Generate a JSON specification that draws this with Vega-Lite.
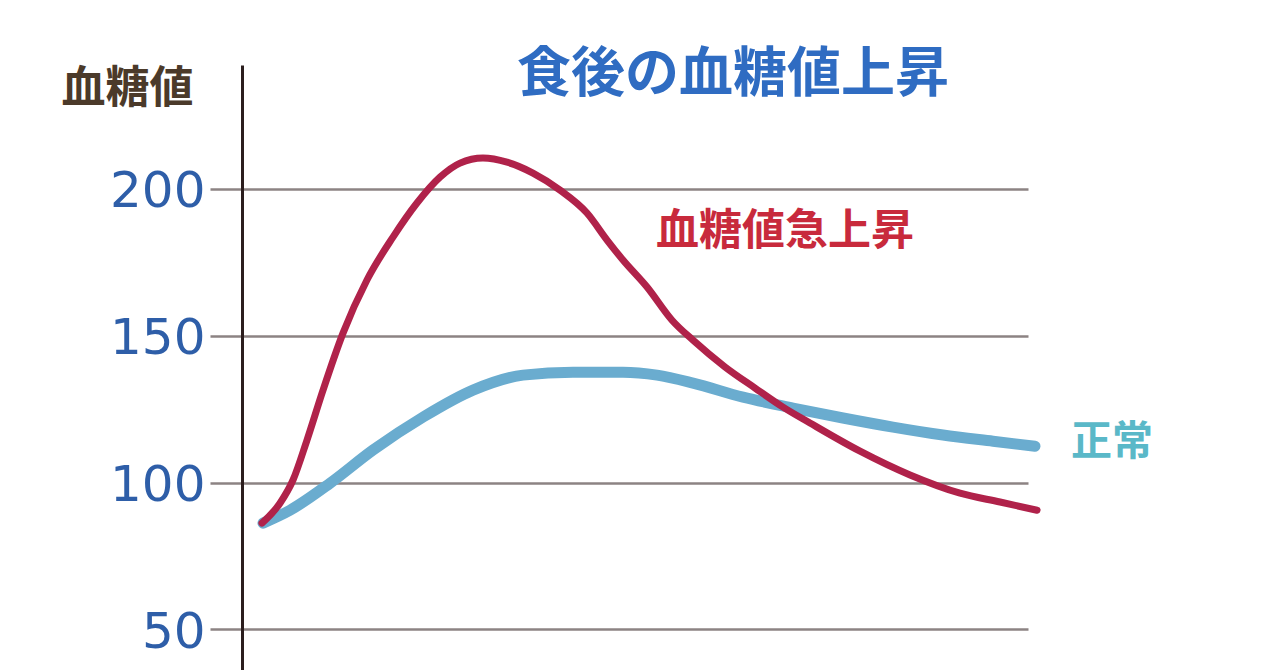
{
  "$schema": "https://vega.github.io/schema/vega-lite/v6.json",
  "width": 786,
  "height": 605,
  "autosize": {"type": "none"},
  "padding": {"left": 242, "top": 65, "right": 252, "bottom": 0},
  "background": "white",
  "config": {"view": {"stroke": null}, "font": "Noto Sans CJK JP"},
  "title": {
    "text": "食後の血糖値上昇",
    "frame": "group",
    "anchor": "middle",
    "orient": "top",
    "offset": 0,
    "baseline": "middle",
    "dx": 98,
    "dy": 65,
    "fontSize": 54,
    "fontWeight": "bold",
    "color": "#2f6cc2",
    "font": "Noto Sans CJK JP"
  },
  "datasets": {
    "spike": [
      {"t": 2.54, "v": 86.2}, {"t": 4.83, "v": 93.0}, {"t": 6.49, "v": 100.9}, {"t": 8.27, "v": 114.5},
      {"t": 10.31, "v": 131.5}, {"t": 12.85, "v": 150.9}, {"t": 15.9, "v": 169.0}, {"t": 19.21, "v": 183.6},
      {"t": 22.26, "v": 195.2}, {"t": 25.19, "v": 204.0}, {"t": 27.74, "v": 208.8}, {"t": 30.66, "v": 210.5},
      {"t": 33.72, "v": 209.1}, {"t": 37.02, "v": 205.4}, {"t": 40.46, "v": 199.6}, {"t": 43.89, "v": 191.8},
      {"t": 46.44, "v": 182.6}, {"t": 48.47, "v": 175.8}, {"t": 51.53, "v": 166.6}, {"t": 54.71, "v": 155.3},
      {"t": 57.38, "v": 148.5}, {"t": 61.45, "v": 139.4}, {"t": 65.27, "v": 132.2}, {"t": 68.83, "v": 125.7},
      {"t": 72.26, "v": 120.3}, {"t": 78.63, "v": 110.7}, {"t": 84.99, "v": 102.6}, {"t": 91.35, "v": 96.4},
      {"t": 96.44, "v": 93.4}, {"t": 101.15, "v": 90.6}
    ],
    "normal": [
      {"t": 2.67, "v": 86.2}, {"t": 6.11, "v": 90.6}, {"t": 11.2, "v": 99.8}, {"t": 16.67, "v": 111.1},
      {"t": 23.03, "v": 122.3}, {"t": 29.39, "v": 131.5}, {"t": 35.75, "v": 136.6}, {"t": 42.11, "v": 137.6},
      {"t": 48.47, "v": 137.6}, {"t": 52.8, "v": 136.6}, {"t": 57.38, "v": 133.9}, {"t": 63.74, "v": 129.1},
      {"t": 70.1, "v": 125.4}, {"t": 76.46, "v": 122.0}, {"t": 82.82, "v": 118.9}, {"t": 89.19, "v": 116.2},
      {"t": 95.55, "v": 114.1}, {"t": 100.89, "v": 112.4}
    ]
  },
  "encoding": {
    "x": {"field": "t", "type": "quantitative", "scale": {"domain": [0, 100], "nice": false, "zero": false}, "axis": null},
    "y": {
      "field": "v",
      "type": "quantitative",
      "scale": {"domain": [36.2, 242.2], "nice": false, "zero": false},
      "axis": {
        "values": [50, 100, 150, 200],
        "title": "血糖値",
        "titleAngle": 0,
        "titleX": -115,
        "titleY": 24,
        "titleAlign": "center",
        "titleBaseline": "middle",
        "titleFont": "Noto Sans CJK JP",
        "titleFontSize": 44,
        "titleFontWeight": "bold",
        "titleColor": "#4b3a2a",
        "labelFont": "DejaVu Sans",
        "labelFontSize": 50,
        "labelColor": "#2e5ea8",
        "labelPadding": 5,
        "labelOffset": 3,
        "grid": true,
        "gridColor": "#8c8383",
        "gridWidth": 2.5,
        "ticks": true,
        "tickSize": 32,
        "tickColor": "#8c8383",
        "tickWidth": 2.5,
        "domain": true,
        "domainColor": "#2b1e1e",
        "domainWidth": 3
      }
    }
  },
  "layer": [
    {
      "data": {"name": "normal"},
      "mark": {"type": "line", "interpolate": "monotone", "color": "#6aaccf", "strokeWidth": 11, "strokeCap": "round"}
    },
    {
      "data": {"name": "spike"},
      "mark": {"type": "line", "interpolate": "monotone", "color": "#b0224a", "strokeWidth": 7, "strokeCap": "round"}
    },
    {
      "data": {"values": [{"t": 69.08, "v": 185.3, "label": "血糖値急上昇"}]},
      "mark": {"type": "text", "font": "Noto Sans CJK JP", "fontSize": 43, "fontWeight": "bold", "color": "#c82a3c", "align": "center", "baseline": "middle"},
      "encoding": {"text": {"field": "label"}}
    },
    {
      "data": {"values": [{"t": 110.69, "v": 113.5, "label": "正常"}]},
      "mark": {"type": "text", "font": "Noto Sans CJK JP", "fontSize": 41, "fontWeight": "bold", "color": "#5ab8c8", "align": "center", "baseline": "middle"},
      "encoding": {"text": {"field": "label"}}
    }
  ]
}
